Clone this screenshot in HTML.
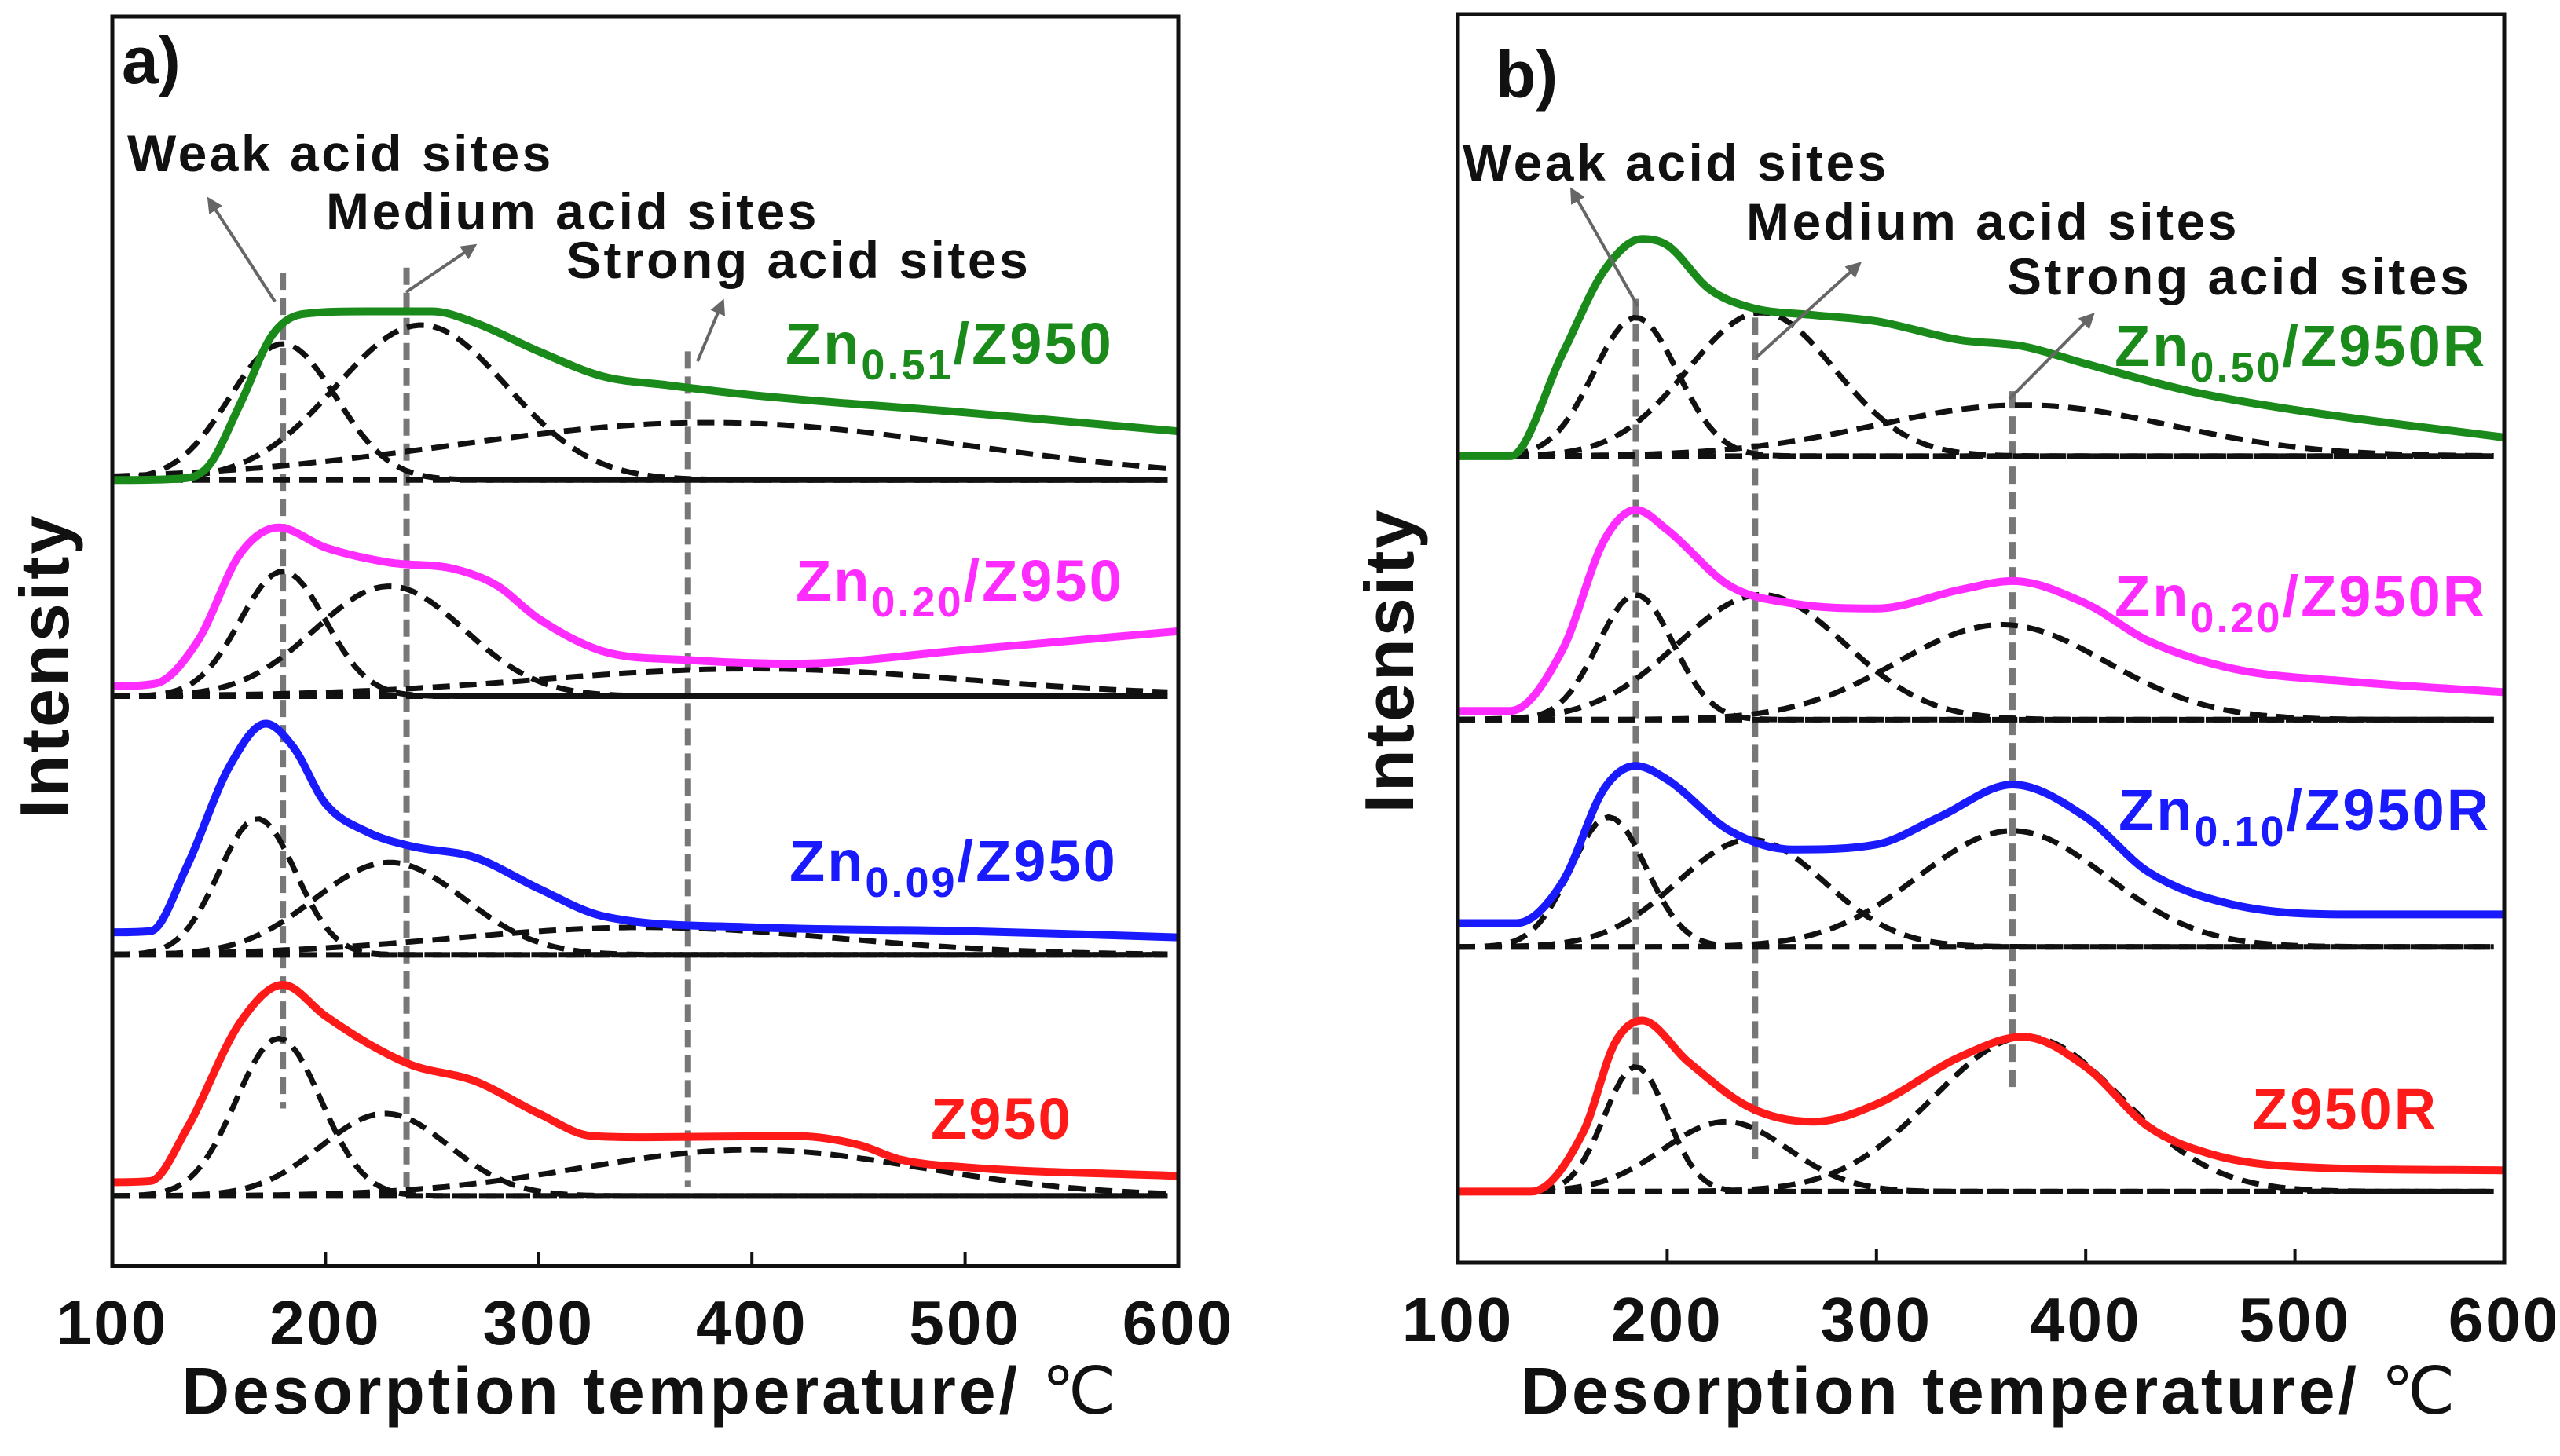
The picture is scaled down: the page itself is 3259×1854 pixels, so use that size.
<!DOCTYPE html>
<html><head><meta charset="utf-8"><style>
html,body{margin:0;padding:0;background:#fff}
svg{display:block}
text{font-family:"Liberation Sans",Arial,sans-serif;font-weight:bold}
</style></head><body>
<svg id="chart" width="3259" height="1854" viewBox="0 0 3259 1854" xmlns="http://www.w3.org/2000/svg">
</svg>
<script>
// ---- data: panel a ----
const xTicks = [100,200,300,400,500,600];
const aGreenT = [100,130,145,160,175,190,220,250,270,300,330,360,400,500,600];
const aGreenI = [629,630,640,690,745,762,764,764,755,732,712,705,697,683,668];
const aMagT = [100,120,140,160,178,200,230,260,280,300,330,370,420,500,600];
const aMagI = [464,466,500,570,591,575,563,558,545,518,492,485,482,493,508];
const aBlueT = [100,118,135,155,172,185,200,220,240,270,300,330,400,500,600];
const aBlueI = [267,268,320,400,434,415,370,347,336,327,302,280,271,268,263];
const aRedT = [100,118,135,160,180,200,220,240,270,300,325,350,420,450,470,500,600];
const aRedI = [67,68,110,195,225,200,178,161,148,122,104,103,104,97,85,79,72];
const aBase = [629,456,249,56];
const aCenters = [[180,245,380],[180,230,400],[168,230,350],[178,228,400]];
const aHeights = [[109,124,46],[100,88,22],[109,74,22],[126,66,37]];
const aWidths = [[25,40,120],[20,35,100],[18,35,90],[20,30,80]];
const aGuideT = [180,238,370];
const aGuideTop = [795,799,732];
const aGuideBot = [126,63,63];
// ---- data: panel b ----
const bGreenT = [100,125,150,170,188,200,220,240,270,300,340,370,400,450,500,600];
const bGreenI = [646,646,728,795,820,815,780,765,759,754,739,734,720,698,683,661];
const bMagT = [100,125,150,170,185,200,230,260,300,340,365,400,430,470,530,600];
const bMagI = [442,442,491,579,603,587,542,528,524,539,546,528,498,476,465,457];
const bBlueT = [100,128,150,170,185,200,230,260,300,330,365,400,430,470,530,600];
const bBlueI = [272,272,305,380,398,387,346,331,335,357,383,357,313,287,279,279];
const bRedT = [100,135,160,175,188,210,240,270,300,340,370,400,430,460,500,600];
const bRedI = [57,57,105,176,194,161,124,113,127,165,181,157,109,87,77,74];
const bBase = [646,435,253,57];
const bCenters = [[185,245,370],[185,245,360],[172,240,365],[185,228,372]];
const bHeights = [[111,115,41],[100,100,76],[104,86,93],[100,56,124]];
const bWidths = [[20,35,70],[18,40,50],[18,35,45],[15,30,45]];
const bGuideT = [185,242,365];
const bGuideTop = [772,757,698];
const bGuideBot = [135,83,139];

const NS="http://www.w3.org/2000/svg";
const svg=document.getElementById('chart');
function mk(tag,attrs,parent){const e=document.createElementNS(NS,tag);for(const k in attrs)e.setAttribute(k,attrs[k]);(parent||svg).appendChild(e);return e;}
// monotone cubic interpolation (Fritsch-Carlson)
function monotone(pts){
  const n=pts.length,dx=[],s=[],m=new Array(n);
  for(let i=0;i<n-1;i++){dx[i]=pts[i+1][0]-pts[i][0];s[i]=(pts[i+1][1]-pts[i][1])/dx[i];}
  m[0]=s[0];m[n-1]=s[n-2];
  for(let i=1;i<n-1;i++){m[i]=(s[i-1]*s[i]<=0)?0:(s[i-1]+s[i])/2;}
  for(let i=0;i<n-1;i++){
    if(s[i]===0){m[i]=0;m[i+1]=0;continue;}
    const a=m[i]/s[i],b=m[i+1]/s[i],h=a*a+b*b;
    if(h>9){const t=3/Math.sqrt(h);m[i]=t*a*s[i];m[i+1]=t*b*s[i];}
  }
  let d='M'+pts[0][0].toFixed(1)+','+pts[0][1].toFixed(1);
  for(let i=0;i<n-1;i++){
    const h=dx[i]/3;
    d+='C'+(pts[i][0]+h).toFixed(1)+','+(pts[i][1]+m[i]*h).toFixed(1)+' '+(pts[i+1][0]-h).toFixed(1)+','+(pts[i+1][1]-m[i+1]*h).toFixed(1)+' '+pts[i+1][0].toFixed(1)+','+pts[i+1][1].toFixed(1);
  }
  return d;
}
function panel(P){
  const g=mk('g',{});
  
  
  const sx=t=>P.x0+(t-100)/500*(P.x1-P.x0);
  const sy=v=>P.y1-v/1000*(P.y1-P.y0);
  P.gT.forEach((t,i)=>{
    const l=mk('line',{x1:sx(t),x2:sx(t),y1:sy(P.gTop[i]),y2:sy(P.gBot[i]),stroke:'#777','stroke-width':8,'stroke-dasharray':'22 10'},g);
    
    
  });
  P.base.forEach((b,gi)=>{
    const bl=mk('line',{x1:sx(100),x2:sx(595),y1:sy(b),y2:sy(b),stroke:'#111','stroke-width':7,'stroke-dasharray':'22 12'},g);
    
    
    P.cen[gi].forEach((c,k)=>{
      let d='';
      for(let t=100;t<=595;t+=3){const v=b+P.hei[gi][k]*Math.exp(-0.5*Math.pow((t-c)/P.wid[gi][k],2));d+=(d?'L':'M')+sx(t).toFixed(1)+','+sy(v).toFixed(1);}
      const p=mk('path',{d:d,fill:'none',stroke:'#111','stroke-width':7,'stroke-dasharray':'22 12'},g);
      
      
    });
  });
  P.series.forEach((s,i)=>{
    const pts=s.t.map((t,j)=>[sx(t),sy(s.v[j])]);
    const p=mk('path',{d:monotone(pts),fill:'none',stroke:s.c,'stroke-width':10,'stroke-linejoin':'round'},g);
    
    
  });
  const f=mk('rect',{x:P.x0,y:P.y0,width:P.x1-P.x0,height:P.y1-P.y0,fill:'none',stroke:'#111','stroke-width':5},g);
  
  
  xTicks.forEach(t=>{
    const tk=mk('line',{x1:sx(t),x2:sx(t),y1:P.y1,y2:P.y1-18,stroke:'#111','stroke-width':4},g);
    
    
    const tl=mk('text',{x:sx(t),y:P.y1+100,'font-size':80,'letter-spacing':3,'text-anchor':'middle',fill:'#111'},g);
    tl.textContent=t;
    
    
  });
}
panel({name:'panel-a',x0:143,x1:1500,y0:21,y1:1612,gT:aGuideT,gTop:aGuideTop,gBot:aGuideBot,base:aBase,cen:aCenters,hei:aHeights,wid:aWidths,
 series:[{t:aGreenT,v:aGreenI,c:'#1a8a1a',n:'zn051-z950-curve'},{t:aMagT,v:aMagI,c:'#ff2cff',n:'zn020-z950-curve'},{t:aBlueT,v:aBlueI,c:'#1a1aff',n:'zn009-z950-curve'},{t:aRedT,v:aRedI,c:'#ff1a1a',n:'z950-curve'}]});
panel({name:'panel-b',x0:1856,x1:3188,y0:18,y1:1608,gT:bGuideT,gTop:bGuideTop,gBot:bGuideBot,base:bBase,cen:bCenters,hei:bHeights,wid:bWidths,
 series:[{t:bGreenT,v:bGreenI,c:'#1a8a1a',n:'zn050-z950r-curve'},{t:bMagT,v:bMagI,c:'#ff2cff',n:'zn020-z950r-curve'},{t:bBlueT,v:bBlueI,c:'#1a1aff',n:'zn010-z950r-curve'},{t:bRedT,v:bRedI,c:'#ff1a1a',n:'z950r-curve'}]});
</script>
<svg style="position:absolute;left:0;top:0" width="3259" height="1854" viewBox="0 0 3259 1854" xmlns="http://www.w3.org/2000/svg">
<defs><marker id="ah2" viewBox="0 0 10 10" refX="8" refY="5" markerWidth="5" markerHeight="5" orient="auto"><path d="M0,0 L10,5 L0,10 z" fill="#666"/></marker></defs>
<g fill="#111" font-family="Liberation Sans, Arial, sans-serif" font-weight="bold">
<text x="155" y="106" font-size="84">a)</text>
<text x="1904" y="124" font-size="84">b)</text>
<text x="162" y="218" font-size="66" letter-spacing="3.5">Weak acid sites</text>
<text x="415" y="292" font-size="66" letter-spacing="3.5">Medium acid sites</text>
<text x="721" y="354" font-size="66" letter-spacing="3.5">Strong acid sites</text>
<text x="1862" y="230" font-size="66" letter-spacing="3.5">Weak acid sites</text>
<text x="2223" y="305" font-size="66" letter-spacing="3.5">Medium acid sites</text>
<text x="2555" y="375" font-size="66" letter-spacing="3.5">Strong acid sites</text>
<text x="828" y="1800" font-size="84" letter-spacing="4" text-anchor="middle">Desorption temperature/ <tspan font-family="Liberation Serif, serif" font-weight="normal">℃</tspan></text>
<text x="2533" y="1800" font-size="84" letter-spacing="4" text-anchor="middle">Desorption temperature/ <tspan font-family="Liberation Serif, serif" font-weight="normal">℃</tspan></text>
<text transform="translate(87,848) rotate(-90)" font-size="88" letter-spacing="3" text-anchor="middle">Intensity</text>
<text transform="translate(1799,841) rotate(-90)" font-size="88" letter-spacing="3" text-anchor="middle">Intensity</text>
</g>
<g stroke="#666" stroke-width="4" marker-end="url(#ah2)">
<line x1="350" y1="384" x2="266" y2="254"/>
<line x1="517" y1="372" x2="604" y2="313"/>
<line x1="888" y1="460" x2="920" y2="384"/>
<line x1="2085" y1="390" x2="2001" y2="242"/>
<line x1="2236" y1="455" x2="2367" y2="336"/>
<line x1="2558" y1="508" x2="2664" y2="401"/>
</g>
<g font-family="Liberation Sans, Arial, sans-serif" font-weight="bold" font-size="74" letter-spacing="3">
<text x="1000" y="463" fill="#1a8a1a">Zn<tspan font-size="54" dy="20">0.51</tspan><tspan dy="-20">/Z950</tspan></text>
<text x="1013" y="765" fill="#ff2cff">Zn<tspan font-size="54" dy="20">0.20</tspan><tspan dy="-20">/Z950</tspan></text>
<text x="1005" y="1122" fill="#1a1aff">Zn<tspan font-size="54" dy="20">0.09</tspan><tspan dy="-20">/Z950</tspan></text>
<text x="1185" y="1450" fill="#ff1a1a">Z950</text>
<text x="2692" y="466" fill="#1a8a1a">Zn<tspan font-size="54" dy="20">0.50</tspan><tspan dy="-20">/Z950R</tspan></text>
<text x="2692" y="785" fill="#ff2cff">Zn<tspan font-size="54" dy="20">0.20</tspan><tspan dy="-20">/Z950R</tspan></text>
<text x="2697" y="1057" fill="#1a1aff">Zn<tspan font-size="54" dy="20">0.10</tspan><tspan dy="-20">/Z950R</tspan></text>
<text x="2867" y="1438" fill="#ff1a1a">Z950R</text>
</g>
</svg>
</body></html>
